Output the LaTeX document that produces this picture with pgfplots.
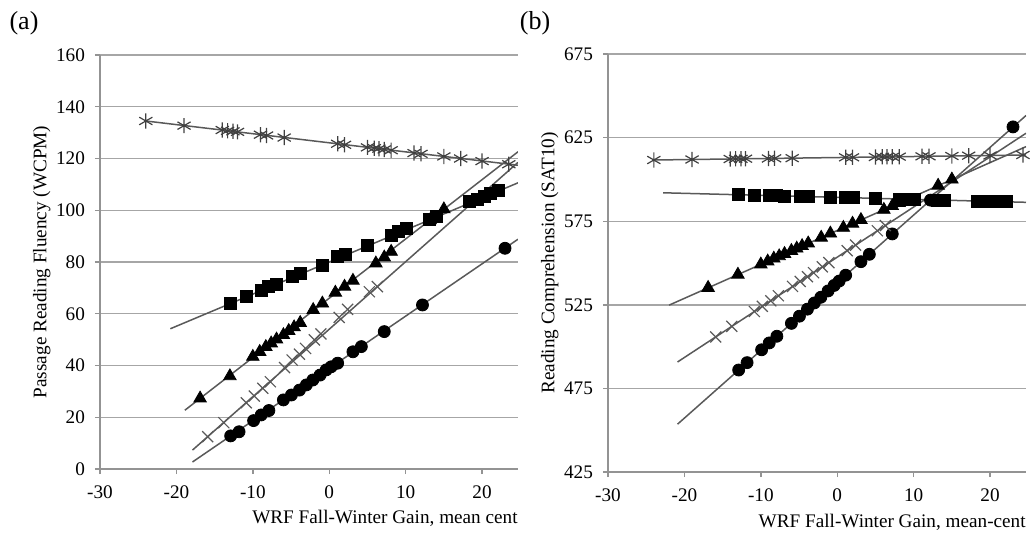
\documentclass[border=0pt]{standalone}
\usepackage{fontspec}
\setmainfont{Liberation Serif}
\usepackage{pgfplots}
\pgfplotsset{compat=1.18}

% shared look of both panels (1px of the reference = 0.5pt)
\pgfplotsset{
  panel/.style={
    scale only axis, width=209pt, height=207pt,
    anchor=south west,
    axis lines*=left,
    axis line style={draw=gray!85, line width=0.7pt},
    ymajorgrids, grid style={draw=gray!70, line width=0.7pt},
    tick align=outside, major tick length=2.5pt,
    tick style={draw=gray!85, line width=0.7pt},
    tick label style={font=\fontsize{9.6}{11}\selectfont},
    yticklabel style={xshift=-1.5pt},
    xticklabel style={yshift=-2.5pt},
    label style={font=\fontsize{9.6}{11}\selectfont},
    /pgf/number format/assume math mode=true,
    xmin=-30, xmax=24.7, xtick={-30,-20,-10,0,10,20},
    xlabel style={at={(axis description cs:1,-0.12)}, anchor=east, inner xsep=0pt},
    ylabel style={at={(axis description cs:-0.139,0.5)}, anchor=center},
  },
  circ/.style={only marks, mark=*, mark size=3pt, black},
  tri/.style={only marks, mark=triangle*, mark size=3.6pt, black},
  sq/.style={only marks, mark=square*, mark size=3pt, black},
  crs/.style={only marks, mark=x, mark size=3.9pt, draw=black!65, line width=0.6pt},
  ast/.style={only marks, mark=asterisk, mark size=3.8pt, draw=black!75, line width=0.6pt},
  fit/.style={no markers, draw=black!65, line width=0.75pt},
}

\begin{document}
\begin{tikzpicture}
\path[use as bounding box] (0,0) rectangle (517pt,266pt);

% ---------------- panel (a)
\begin{axis}[panel, at={(50pt,31.5pt)},
  ymin=0, ymax=160, ytick={0,20,...,160},
  xlabel={WRF Fall-Winter Gain, mean cent},
  ylabel={Passage Reading Fluency (WCPM)}]
\addplot[circ] coordinates {
(-12.9,12.8) (-11.8,14.4) (-9.9,18.7) (-8.9,20.9) (-7.9,22.6) (-6.0,26.7)
(-4.95,28.6) (-3.9,30.5) (-3.0,32.5) (-2.15,34.4) (-1.2,36.3) (-0.4,38.3)
(0.25,39.5) (1.1,40.9) (3.1,45.3) (4.2,47.3) (7.2,53.1) (12.2,63.4) (23.0,85.3)
};
\addplot[crs] coordinates {
(-15.9,12.5) (-13.8,17.9) (-10.85,25.6) (-9.8,28.2) (-8.7,31.2) (-7.7,33.7)
(-5.85,39.2) (-4.85,42.1) (-3.9,44.4) (-3.1,46.6) (-1.95,49.9) (-1.1,52.2)
(1.3,58.6) (2.4,61.7) (5.25,68.5) (6.3,70.5)
};
\addplot[tri] coordinates {
(-16.9,27.3) (-13.0,35.9) (-10.0,43.4) (-9.1,45.3) (-8.3,47.2) (-7.6,48.6)
(-6.9,50.1) (-6.0,51.8) (-5.3,53.4) (-4.6,54.8) (-3.8,56.5) (-2.1,61.5)
(-0.9,64.0) (0.8,68.2) (2.0,70.5) (3.1,72.8) (6.1,79.5) (7.2,81.8) (8.1,84.0)
(13.2,96.2) (15.0,100.4)
};
\addplot[sq] coordinates {
(-12.9,64.0) (-10.9,66.6) (-8.9,68.9) (-7.9,70.5) (-6.9,71.5) (-4.85,74.3)
(-3.8,75.6) (-0.9,78.8) (1.1,82.0) (2.1,83.0) (5.0,86.3) (8.1,90.4) (9.1,91.7)
(10.1,92.8) (13.1,96.6) (14.0,97.8) (18.3,103.3) (19.4,104.2) (20.3,105.2)
(21.1,106.5) (22.2,107.5)
};
\addplot[ast] coordinates {
(-24,134.5) (-19,132.7) (-14,131.0) (-13.3,130.7) (-12.6,130.5) (-12,130.3)
(-9,129.2) (-8.2,128.9) (-5.9,128.1) (1.1,125.7) (2,125.3) (5,124.3) (5.9,124.0)
(6.5,123.8) (7.2,123.5) (8.1,123.2) (11.1,122.1) (12,121.8) (15,120.8)
(17.2,120.0) (20,119.0) (23.5,117.8)
};
% fitted lines
\addplot[fit] coordinates {(-17.9,2.7) (24.7,88.8)};
\addplot[fit] coordinates {(-17.9,7.3) (24.7,118.5)};
\addplot[fit] coordinates {(-18.9,22.7) (24.7,122.6)};
\addplot[fit] coordinates {(-20.8,54.2) (24.7,110.6)};
\addplot[fit] coordinates {(-24,134.5) (24.7,117.4)};
\end{axis}

% ---------------- panel (b)
\begin{axis}[panel, at={(304pt,30pt)}, height=209pt,
  ymin=425, ymax=675, ytick={425,475,...,675},
  xlabel={WRF Fall-Winter Gain, mean-cent},
  ylabel={Reading Comprehension (SAT10)}]
\addplot[circ] coordinates {
(-12.9,486.0) (-11.8,490.4) (-9.9,498.1) (-8.9,502.2) (-7.9,506.2) (-6.0,513.9)
(-4.95,518.2) (-3.9,522.4) (-3.0,526.1) (-2.15,529.5) (-1.2,533.3) (-0.4,536.6)
(0.25,539.2) (1.1,542.7) (3.1,550.8) (4.2,555.2) (7.2,567.4) (12.2,587.6) (23.0,631.4)
};
\addplot[crs] coordinates {
(-15.9,505.8) (-13.8,512.1) (-10.85,521.0) (-9.8,524.1) (-8.7,527.4) (-7.7,530.4)
(-5.85,536.0) (-4.85,539.0) (-3.9,541.8) (-3.1,544.2) (-1.95,547.7) (-1.1,550.2)
(1.3,557.4) (2.4,560.7) (5.25,569.3) (6.3,572.4)
};
\addplot[tri] coordinates {
(-16.9,535.2) (-13.0,543.1) (-10.0,549.2) (-9.1,551.0) (-8.3,552.7) (-7.6,554.1)
(-6.9,555.5) (-6.0,557.3) (-5.3,558.7) (-4.6,560.2) (-3.8,561.8) (-2.1,565.2)
(-0.9,567.7) (0.8,571.1) (2.0,573.6) (3.1,575.8) (6.1,581.9) (7.2,584.1)
(8.1,585.9) (13.2,596.3) (15.0,600.0)
};
\addplot[sq] coordinates {
(-12.9,590.8) (-10.9,590.6) (-8.9,590.4) (-7.9,590.2) (-6.9,590.1) (-4.85,589.9)
(-3.8,589.8) (-0.9,589.4) (1.1,589.2) (2.1,589.0) (5.0,588.7) (8.1,588.3)
(9.1,588.2) (10.1,588.1) (13.1,587.7) (14.0,587.6) (18.3,587.1) (19.4,587.0)
(20.3,586.9) (21.1,586.8) (22.2,586.6)
};
\addplot[ast] coordinates {
(-24,611.6) (-19,611.9) (-14,612.2) (-13.3,612.3) (-12.6,612.3) (-12,612.4)
(-9,612.5) (-8.2,612.6) (-5.9,612.7) (1.1,613.2) (2,613.2) (5,613.4) (5.9,613.5)
(6.5,613.5) (7.2,613.5) (8.1,613.6) (11.1,613.8) (12,613.8) (15,614.0)
(17.2,614.2) (20,614.3) (24.3,614.6)
};
\addplot[fit] coordinates {(-20.9,453.6) (24.7,638.2)};
\addplot[fit] coordinates {(-20.9,490.8) (24.7,627.6)};
\addplot[fit] coordinates {(-22,524.8) (24.7,619.6)};
\addplot[fit] coordinates {(-22.8,592.0) (24.7,586.3)};
\addplot[fit] coordinates {(-24,611.6) (24.7,614.6)};
\end{axis}

\node[font=\fontsize{13}{15}\selectfont] at (12pt,254.5pt) {(a)};
\node[font=\fontsize{13}{15}\selectfont] at (267.5pt,254.5pt) {(b)};
\end{tikzpicture}
\end{document}
